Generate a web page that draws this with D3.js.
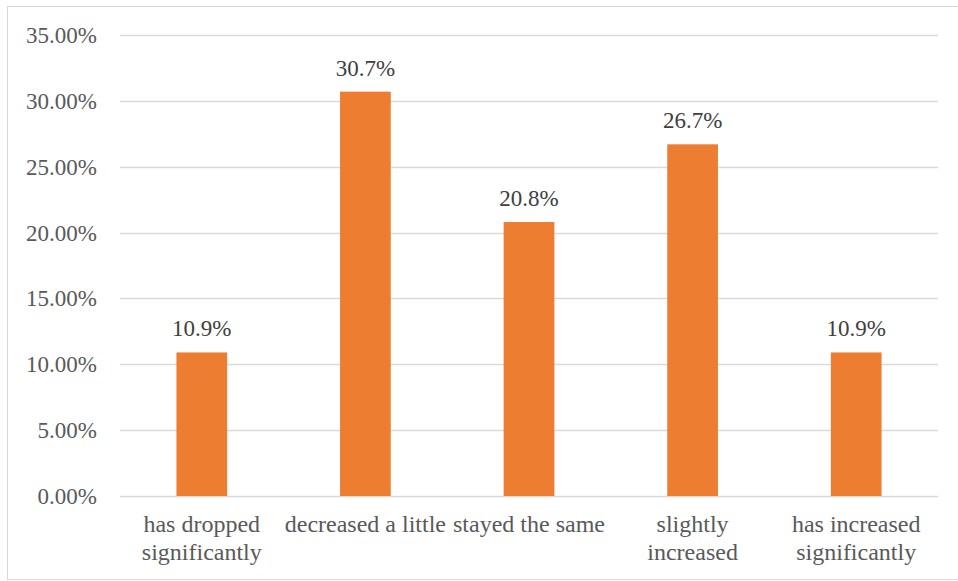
<!DOCTYPE html>
<html>
<head>
<meta charset="utf-8">
<script src="https://cdn.jsdelivr.net/npm/d3@7/dist/d3.min.js"></script>
<style>
  html, body { margin: 0; padding: 0; background: #fff; }
  svg { display: block; }
  text { font-family: "Liberation Serif", "Times New Roman", serif; }
</style>
</head>
<body>
<svg id="chart" width="958" height="581"></svg>
<script>
const categories = [
  "has dropped\nsignificantly",
  "decreased a little",
  "stayed the same",
  "slightly\nincreased",
  "has increased\nsignificantly"
];
const values = [10.9, 30.7, 20.8, 26.7, 10.9];
const valueLabels = ["10.9%", "30.7%", "20.8%", "26.7%", "10.9%"];
const yTicks = [0, 5, 10, 15, 20, 25, 30, 35];

(function () {
const svg = d3.select("#chart");
const W = 958, H = 581;
const plotLeft = 120, plotRight = 938, plotTop = 35, plotBottom = 496;
const textColor = "#595959";

// chart border
svg.append("rect")
  .attr("x", 7.5).attr("y", 6.5)
  .attr("width", W - 7).attr("height", H - 8)
  .attr("fill", "none").attr("stroke", "#d9d9d9").attr("stroke-width", 1);

const x = d3.scaleBand().domain(d3.range(categories.length)).range([plotLeft, plotRight]).padding(0);
const y = d3.scaleLinear().domain([0, 35]).range([plotBottom, plotTop]);

// gridlines
svg.append("g").selectAll("line").data(yTicks).join("line")
  .attr("x1", plotLeft).attr("x2", plotRight)
  .attr("y1", d => Math.round(y(d)) + 0.5).attr("y2", d => Math.round(y(d)) + 0.5)
  .attr("stroke", "#d9d9d9").attr("stroke-width", 1.3);

// y tick labels
svg.append("g").selectAll("text").data(yTicks).join("text")
  .attr("x", 97).attr("y", d => y(d))
  .attr("dy", "0.35em")
  .attr("text-anchor", "end")
  .attr("font-size", 23)
  .attr("fill", textColor)
  .text(d => d.toFixed(2) + "%");

// bars
const barW = x.bandwidth() * 0.31;
svg.append("g").selectAll("rect").data(values).join("rect")
  .attr("x", (d, i) => x(i) + x.bandwidth() / 2 - barW / 2)
  .attr("y", d => y(d))
  .attr("width", barW)
  .attr("height", d => y(0) - y(d))
  .attr("fill", "#ED7D31");

// value labels
svg.append("g").selectAll("text").data(values).join("text")
  .attr("x", (d, i) => x(i) + x.bandwidth() / 2)
  .attr("y", d => y(d) - 16)
  .attr("text-anchor", "middle")
  .attr("font-size", 23)
  .attr("fill", "#404040")
  .text((d, i) => valueLabels[i]);

// category labels
const cat = svg.append("g").selectAll("text").data(categories).join("text")
  .attr("x", (d, i) => x(i) + x.bandwidth() / 2)
  .attr("y", 532)
  .attr("text-anchor", "middle")
  .attr("font-size", 24)
  .attr("fill", textColor);
cat.each(function(d, i) {
  const lines = d.split("\n");
  const t = d3.select(this);
  lines.forEach((ln, j) => {
    t.append("tspan")
      .attr("x", x(i) + x.bandwidth() / 2)
      .attr("dy", j === 0 ? 0 : 28)
      .text(ln);
  });
});
})();
</script>
</body>
</html>
